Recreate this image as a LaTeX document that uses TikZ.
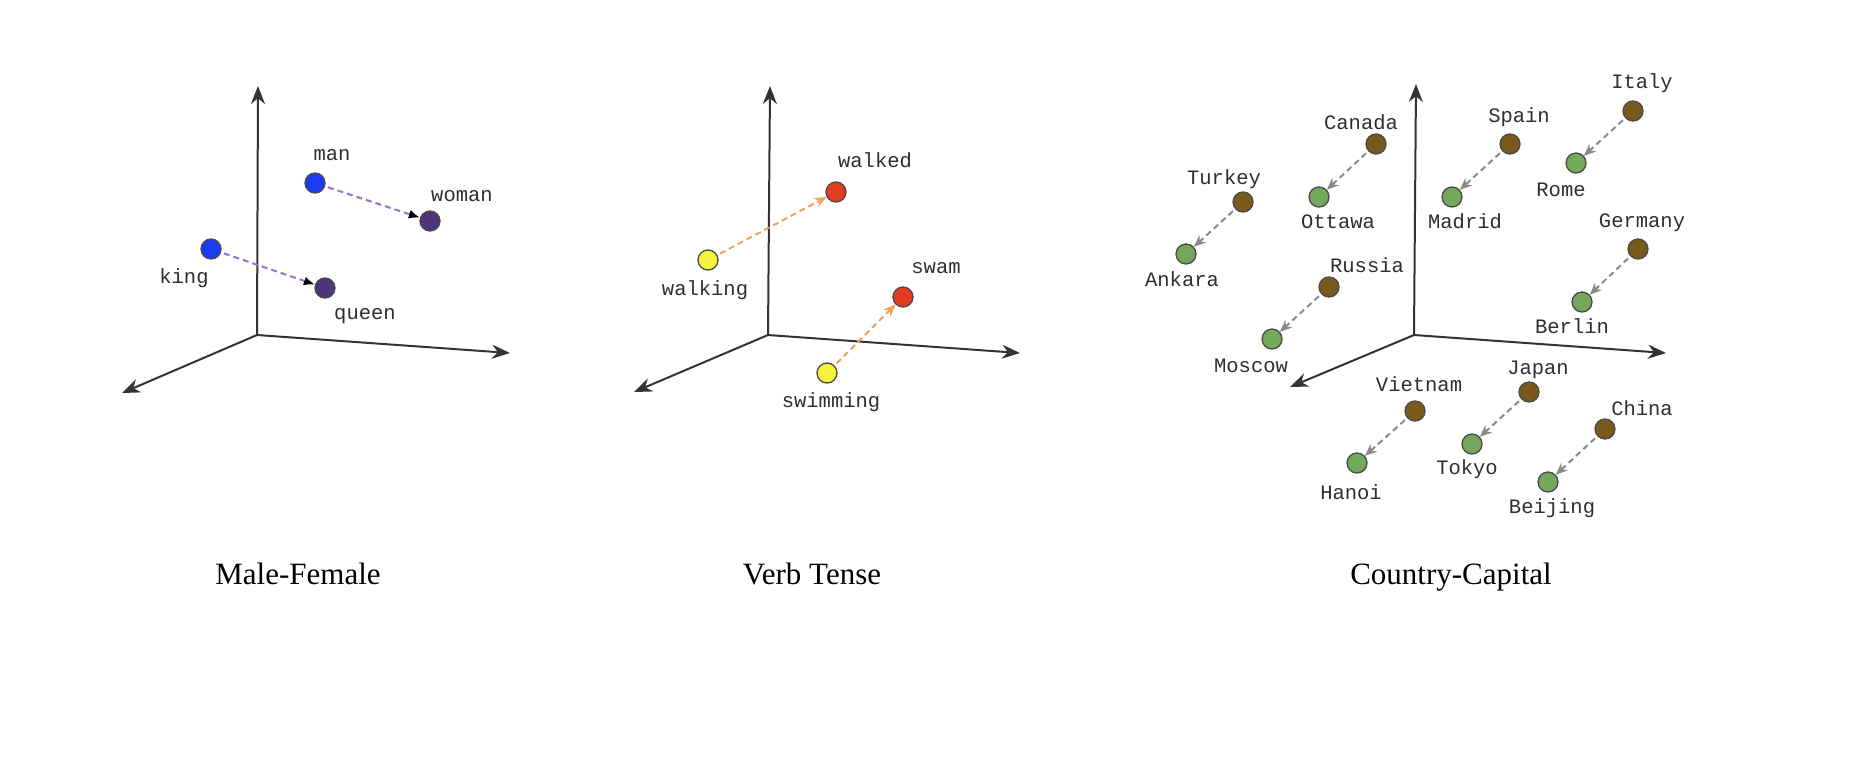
\documentclass[tikz,border=0pt]{standalone}
\usepackage{fontspec}
\setmainfont{Liberation Serif}
\setmonofont{Liberation Mono}
\usetikzlibrary{arrows.meta,positioning}
\definecolor{AxisGray}{HTML}{333333}
\definecolor{Rim}{HTML}{4A4A4A}
\definecolor{Ink}{HTML}{2E2E2E}
\definecolor{MaleBlue}{HTML}{1A3BF2}
\definecolor{FemPurple}{HTML}{4C3679}
\definecolor{PastRed}{HTML}{E23C22}
\definecolor{IngYellow}{HTML}{F4F43E}
\definecolor{LandBrown}{HTML}{7A5A1C}
\definecolor{CapGreen}{HTML}{72A85C}
\definecolor{DashPurple}{HTML}{9A70D4}
\definecolor{DashOrange}{HTML}{F0A15C}
\definecolor{DashGray}{HTML}{8A8A8A}
\tikzset{
 axis/.style={-{Stealth[length=18pt,width=14pt]}, line width=2pt, draw=AxisGray},
 dot/.style={circle, draw=Rim, line width=1.3pt, minimum size=20pt, inner sep=0pt},
 word/.style={anchor=base, font=\ttfamily\fontsize{20.5}{24}\selectfont, text=Ink, inner sep=0pt},
 caption/.style={anchor=base, font=\fontsize{31}{36}\selectfont, inner sep=0pt},
 link/.style={dash pattern=on 6pt off 4pt, line width=2pt, shorten <=3pt},
 genderlink/.style={link, draw=DashPurple, -{Latex[length=11pt,width=9pt,black]}},
 tenselink/.style={link, draw=DashOrange, -{Stealth[length=12pt,width=10pt]}},
 capitallink/.style={link, draw=DashGray, -{Stealth[length=12pt,width=10pt,open]}}
}

\begin{document}
\begin{tikzpicture}[x=1pt,y=-1pt]
\useasboundingbox (0,0) rectangle (1874,774);

% Male-Female
\coordinate (o1) at (257,335);
\coordinate (up1) at (258,86);
\coordinate (rt1) at (510,353);
\coordinate (lt1) at (122,393);
\draw[axis] (o1) -- (up1);
\draw[axis] (o1) -- (rt1);
\draw[axis] (o1) -- (lt1);
\node[dot, fill=MaleBlue] (man) at (315,183) {};
\node[dot, fill=FemPurple] (woman) at (430,221) {};
\node[dot, fill=MaleBlue] (king) at (211,249) {};
\node[dot, fill=FemPurple] (queen) at (325,288) {};
\node[word] (man-l) at (332,160) {man};
\node[word] (woman-l) at (462,201) {woman};
\node[word] (king-l) at (184,283) {king};
\node[word] (queen-l) at (365,319) {queen};
\draw[genderlink] (man) -- (woman);
\draw[genderlink] (king) -- (queen);
\node[caption] (cap1) at (298,584) {Male-Female};

% Verb Tense
\coordinate (o2) at (768,335);
\coordinate (up2) at (770,86);
\coordinate (rt2) at (1020,353);
\coordinate (lt2) at (634,392);
\draw[axis] (o2) -- (up2);
\draw[axis] (o2) -- (rt2);
\draw[axis] (o2) -- (lt2);
\node[dot, fill=PastRed] (walked) at (836,192) {};
\node[dot, fill=IngYellow] (walking) at (708,260) {};
\node[dot, fill=PastRed] (swam) at (903,297) {};
\node[dot, fill=IngYellow] (swimming) at (827,373) {};
\node[word] (walked-l) at (875,167) {walked};
\node[word] (walking-l) at (705,295) {walking};
\node[word] (swam-l) at (936,273) {swam};
\node[word] (swimming-l) at (831,407) {swimming};
\draw[tenselink] (walking) -- (walked);
\draw[tenselink] (swimming) -- (swam);
\node[caption] (cap2) at (812,584) {Verb Tense};

% Country-Capital
\coordinate (o3) at (1414,335);
\coordinate (up3) at (1416,84);
\coordinate (rt3) at (1666,353);
\coordinate (lt3) at (1290,387);
\draw[axis] (o3) -- (up3);
\draw[axis] (o3) -- (rt3);
\draw[axis] (o3) -- (lt3);
\node[dot, fill=LandBrown] (canada) at (1376,144) {};
\node[dot, fill=CapGreen] (ottawa) at (1319,197) {};
\node[dot, fill=LandBrown] (turkey) at (1243,202) {};
\node[dot, fill=CapGreen] (ankara) at (1186,254) {};
\node[dot, fill=LandBrown] (spain) at (1510,144) {};
\node[dot, fill=CapGreen] (madrid) at (1452,197) {};
\node[dot, fill=LandBrown] (italy) at (1633,111) {};
\node[dot, fill=CapGreen] (rome) at (1576,163) {};
\node[dot, fill=LandBrown] (germany) at (1638,249) {};
\node[dot, fill=CapGreen] (berlin) at (1582,302) {};
\node[dot, fill=LandBrown] (russia) at (1329,287) {};
\node[dot, fill=CapGreen] (moscow) at (1272,339) {};
\node[dot, fill=LandBrown] (vietnam) at (1415,411) {};
\node[dot, fill=CapGreen] (hanoi) at (1357,463) {};
\node[dot, fill=LandBrown] (japan) at (1529,392) {};
\node[dot, fill=CapGreen] (tokyo) at (1472,444) {};
\node[dot, fill=LandBrown] (china) at (1605,429) {};
\node[dot, fill=CapGreen] (beijing) at (1548,482) {};
\node[word] (canada-l) at (1361,129) {Canada};
\node[word] (ottawa-l) at (1338,228) {Ottawa};
\node[word] (turkey-l) at (1224,184) {Turkey};
\node[word] (ankara-l) at (1182,286) {Ankara};
\node[word] (spain-l) at (1519,122) {Spain};
\node[word] (madrid-l) at (1465,228) {Madrid};
\node[word] (italy-l) at (1642,88) {Italy};
\node[word] (rome-l) at (1561,196) {Rome};
\node[word] (germany-l) at (1642,227) {Germany};
\node[word] (berlin-l) at (1572,333) {Berlin};
\node[word] (russia-l) at (1367,272) {Russia};
\node[word] (moscow-l) at (1251,372) {Moscow};
\node[word] (vietnam-l) at (1419,391) {Vietnam};
\node[word] (hanoi-l) at (1351,499) {Hanoi};
\node[word] (japan-l) at (1538,374) {Japan};
\node[word] (tokyo-l) at (1467,474) {Tokyo};
\node[word] (china-l) at (1642,415) {China};
\node[word] (beijing-l) at (1552,513) {Beijing};
\draw[capitallink] (canada) -- (ottawa);
\draw[capitallink] (turkey) -- (ankara);
\draw[capitallink] (spain) -- (madrid);
\draw[capitallink] (italy) -- (rome);
\draw[capitallink] (germany) -- (berlin);
\draw[capitallink] (russia) -- (moscow);
\draw[capitallink] (vietnam) -- (hanoi);
\draw[capitallink] (japan) -- (tokyo);
\draw[capitallink] (china) -- (beijing);
\node[caption] (cap3) at (1451,584) {Country-Capital};
\end{tikzpicture}
\end{document}
